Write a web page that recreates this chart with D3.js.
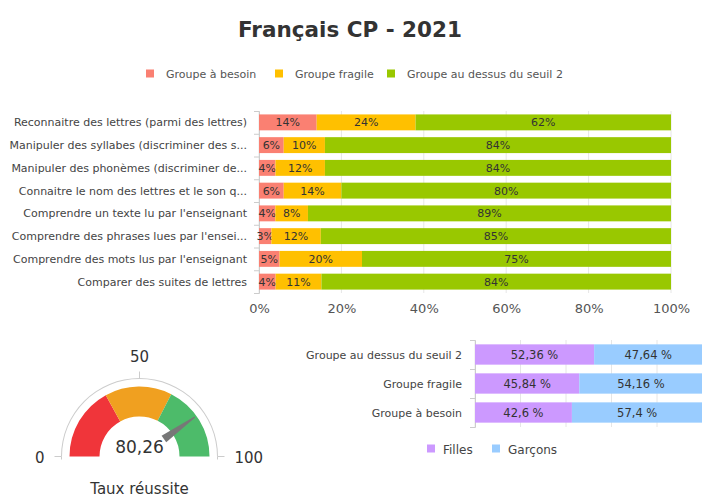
<!DOCTYPE html>
<html>
<head>
<meta charset="utf-8">
<script src="https://cdn.jsdelivr.net/npm/d3@7"></script>
<style>
  body { margin: 0; background: #fff; }
  svg { display: block; font-family: "DejaVu Sans", sans-serif; }
</style>
</head>
<body>
<svg id="chart" width="702" height="497"></svg>
<script>
// Data
const skills = [
  "Reconnaitre des lettres (parmi des lettres)",
  "Manipuler des syllabes (discriminer des s...",
  "Manipuler des phonèmes (discriminer de...",
  "Connaitre le nom des lettres et le son q...",
  "Comprendre un texte lu par l'enseignant",
  "Comprendre des phrases lues par l'ensei...",
  "Comprendre des mots lus par l'enseignant",
  "Comparer des suites de lettres"
];
const groupNames = ["Groupe à besoin", "Groupe fragile", "Groupe au dessus du seuil 2"];
const besoin = [14, 6, 4, 6, 4, 3, 5, 4];
const fragile = [24, 10, 12, 14, 8, 12, 20, 11];
const auDessus = [62, 84, 84, 80, 89, 85, 75, 84];
const percentTicks = [0, 20, 40, 60, 80, 100];

const gaugeValue = 80.26;
const gaugeBands = [[0, 34], [34, 65], [65, 100]];
const gaugeTicks = [0, 50, 100];

const genderGroups = ["Groupe au dessus du seuil 2", "Groupe fragile", "Groupe à besoin"];
const filles = [52.36, 45.84, 42.6];
const garcons = [47.64, 54.16, 57.4];
const genderNames = ["Filles", "Garçons"];

const groupColors = ["#fa8072", "#ffc000", "#99c800"];
const gaugeColors = ["#f0353a", "#f0a020", "#4dbb6a"];
const genderColors = ["#cc99ff", "#99ccff"];

const svg = d3.select("#chart");

// Title
svg.append("text")
  .attr("x", 350).attr("y", 37)
  .attr("text-anchor", "middle")
  .style("font-size", "21.5px").style("font-weight", "bold")
  .style("fill", "#333")
  .text("Français CP - 2021");

// Top legend
const legendX = [146, 275, 387];
groupNames.forEach((name, i) => {
  const g = svg.append("g").attr("transform", `translate(${legendX[i]},74)`);
  g.append("rect").attr("x", 0).attr("y", -4.5).attr("width", 8).attr("height", 8).attr("fill", groupColors[i]);
  g.append("text").attr("x", 20).attr("y", 4)
    .style("font-size", "11px").style("fill", "#555").text(name);
});

// ---- Top stacked bar chart (percent stacking) ----
const x = d3.scaleLinear().domain([0, 1]).range([259, 671]);
const y = d3.scaleBand().domain(skills).range([111, 293]).paddingInner(0.3).paddingOuter(0.15);

// Gridlines
svg.append("g").selectAll("line").data(percentTicks).join("line")
  .attr("x1", d => x(d / 100)).attr("x2", d => x(d / 100))
  .attr("y1", 111).attr("y2", 293)
  .attr("stroke", "#e6e6e6");

// Category axis line + ticks between categories
const idx = d3.scaleLinear().domain([0, skills.length]).range([111, 293]);
const leftAxis = svg.append("g").attr("transform", "translate(259,0)")
  .call(d3.axisLeft(idx).tickValues(d3.range(skills.length + 1)).tickSize(5).tickFormat(""));
leftAxis.selectAll("path, line").attr("stroke", "#ccc");

// Category labels
svg.append("g").selectAll("text").data(skills).join("text")
  .attr("x", 247).attr("y", d => y(d) + y.bandwidth() / 2 + 4)
  .attr("text-anchor", "end")
  .style("font-size", "11px").style("fill", "#444")
  .text(d => d);

// Stacked bars
const rows = skills.map((s, i) => ({ skill: s, b: besoin[i], f: fragile[i], a: auDessus[i] }));
const keys = ["b", "f", "a"];
const stacked = d3.stack().keys(keys).offset(d3.stackOffsetExpand)(rows);
stacked.forEach((layer, li) => {
  const g = svg.append("g");
  g.selectAll("rect").data(layer).join("rect")
    .attr("x", d => x(d[0])).attr("width", d => x(d[1]) - x(d[0]))
    .attr("y", d => y(d.data.skill)).attr("height", y.bandwidth())
    .attr("fill", groupColors[li]);
  g.selectAll("text").data(layer).join("text")
    .attr("x", d => (x(d[0]) + x(d[1])) / 2)
    .attr("y", d => y(d.data.skill) + y.bandwidth() / 2 + 4)
    .attr("text-anchor", "middle")
    .style("font-size", "11px").style("fill", "#333")
    .text(d => d.data[keys[li]] + "%");
});

// X axis labels
const bottomAxis = svg.append("g").attr("transform", "translate(0,301)")
  .call(d3.axisBottom(x).tickValues(percentTicks.map(d => d / 100)).tickSize(0).tickFormat(d3.format(".0%")));
bottomAxis.select(".domain").remove();
bottomAxis.selectAll("text").style("font-size", "13px").style("fill", "#555")
  .style("font-family", "DejaVu Sans, sans-serif");

// ---- Gauge ----
const cx = 139.5, cy = 456.5;
const angle = d3.scaleLinear().domain([0, 100]).range([-Math.PI / 2, Math.PI / 2]);
const gauge = svg.append("g").attr("transform", `translate(${cx},${cy})`);
const bandArc = d3.arc().innerRadius(40).outerRadius(70);
gauge.selectAll("path.band").data(gaugeBands).join("path")
  .attr("class", "band")
  .attr("d", d => bandArc({ startAngle: angle(d[0]), endAngle: angle(d[1]) }))
  .attr("fill", (d, i) => gaugeColors[i]);

// Outer border arc
gauge.append("path")
  .attr("d", d3.arc().innerRadius(77.5).outerRadius(78.5)({ startAngle: angle(0), endAngle: angle(100) }))
  .attr("fill", "#ccc");
gauge.append("line").attr("x1", -78).attr("x2", -78).attr("y1", 0).attr("y2", 3).attr("stroke", "#ccc");
gauge.append("line").attr("x1", 78).attr("x2", 78).attr("y1", 0).attr("y2", 3).attr("stroke", "#ccc");

// Ticks and labels
gaugeTicks.forEach(t => {
  const a = angle(t);
  gauge.append("line")
    .attr("x1", 78 * Math.sin(a)).attr("y1", -78 * Math.cos(a))
    .attr("x2", 85 * Math.sin(a)).attr("y2", -85 * Math.cos(a))
    .attr("stroke", "#ccc");
  const lx = 95 * Math.sin(a), ly = -95 * Math.cos(a);
  gauge.append("text")
    .attr("x", lx).attr("y", t === 50 ? ly : ly + 6)
    .attr("text-anchor", t === 0 ? "end" : t === 100 ? "start" : "middle")
    .style("font-size", "15px").style("fill", "#333")
    .text(t);
});

// Value label
gauge.append("text")
  .attr("x", 0).attr("y", -4)
  .attr("text-anchor", "middle")
  .style("font-size", "17px").style("fill", "#333")
  .text(d3.format(".2f")(gaugeValue).replace(".", ","));

// Needle
gauge.append("path")
  .attr("d", "M -4 -30 L -0.5 -68 L 0.5 -68 L 4 -30 Z")
  .attr("fill", "#777")
  .attr("transform", `rotate(${angle(gaugeValue) * 180 / Math.PI})`);

svg.append("text")
  .attr("x", cx).attr("y", 494)
  .attr("text-anchor", "middle")
  .style("font-size", "15px").style("fill", "#333")
  .text("Taux réussite");

// ---- Bottom gender chart ----
const x2 = d3.scaleLinear().domain([0, 100]).range([475, 702.5]);
const y2 = d3.scaleBand().domain(genderGroups).range([340, 427]).paddingInner(0.3).paddingOuter(0.15);

svg.append("g").selectAll("line").data(percentTicks).join("line")
  .attr("x1", d => x2(d)).attr("x2", d => x2(d))
  .attr("y1", 340).attr("y2", 427)
  .attr("stroke", "#e6e6e6");

const idx2 = d3.scaleLinear().domain([0, genderGroups.length]).range([340, 427]);
const leftAxis2 = svg.append("g").attr("transform", "translate(475,0)")
  .call(d3.axisLeft(idx2).tickValues(d3.range(genderGroups.length + 1)).tickSize(5).tickFormat(""));
leftAxis2.selectAll("path, line").attr("stroke", "#ccc");

svg.append("g").selectAll("text").data(genderGroups).join("text")
  .attr("x", 462).attr("y", d => y2(d) + y2.bandwidth() / 2 + 4)
  .attr("text-anchor", "end")
  .style("font-size", "11px").style("fill", "#444")
  .text(d => d);

const genderRows = genderGroups.map((g, i) => ({ group: g, f: filles[i], g2: garcons[i] }));
const genderKeys = ["f", "g2"];
const genderStack = d3.stack().keys(genderKeys)(genderRows);
const fmt = v => String(v).replace(".", ",") + " %";
genderStack.forEach((layer, li) => {
  const g = svg.append("g");
  g.selectAll("rect").data(layer).join("rect")
    .attr("x", d => x2(d[0])).attr("width", d => x2(d[1]) - x2(d[0]))
    .attr("y", d => y2(d.data.group)).attr("height", y2.bandwidth())
    .attr("fill", genderColors[li]);
  g.selectAll("text").data(layer).join("text")
    .attr("x", d => (x2(d[0]) + x2(d[1])) / 2)
    .attr("y", d => y2(d.data.group) + y2.bandwidth() / 2 + 4)
    .attr("text-anchor", "middle")
    .style("font-size", "11.5px").style("fill", "#333")
    .text(d => fmt(d.data[genderKeys[li]]));
});

// Bottom legend
const legend2X = [427, 492];
genderNames.forEach((name, i) => {
  const g = svg.append("g").attr("transform", `translate(${legend2X[i]},449)`);
  g.append("rect").attr("x", 0).attr("y", -4.5).attr("width", 8).attr("height", 8).attr("fill", genderColors[i]);
  g.append("text").attr("x", 16).attr("y", 4.5)
    .style("font-size", "12px").style("fill", "#444").text(name);
});
</script>
</body>
</html>
